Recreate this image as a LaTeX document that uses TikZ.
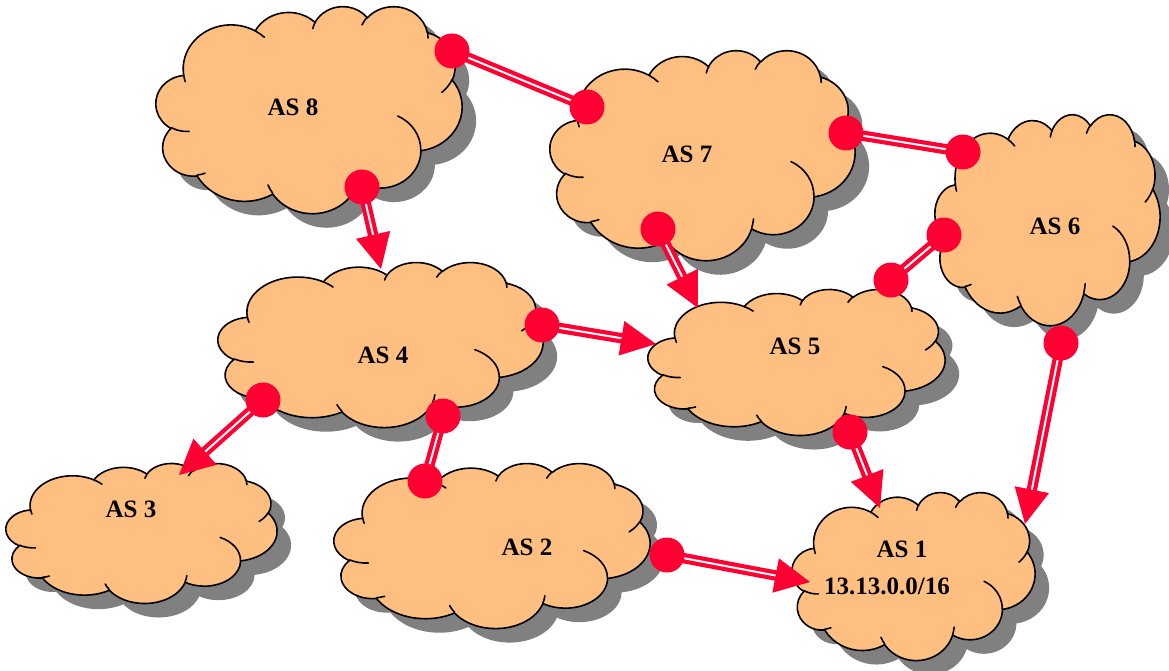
\documentclass[tikz,border=0pt]{standalone}
\usepackage{fontspec}
\setmainfont{Liberation Serif}
\usetikzlibrary{calc}
\definecolor{cloudfill}{RGB}{255,191,128}
\definecolor{shadowc}{RGB}{128,128,128}
\definecolor{linkred}{RGB}{255,0,51}

% Office-style arc: radii, visual start angle, sweep (y pointing down)
\newcommand\oa[4]{arc[x radius=#1, y radius=#2, start angle={-atan2((#1)*sin(#3),(#2)*cos(#3))}, delta angle={-mod(atan2((#1)*sin((#3)+(#4)),(#2)*cos((#3)+(#4)))-atan2((#1)*sin(#3),(#2)*cos(#3))+720,360)}]}

\newcommand\cloudshape{(39.00,-143.70) \oa{67.53}{91.90}{-190.4875}{123.7805} \oa{53.33}{72.67}{-144.1024}{89.9452} \oa{43.65}{59.45}{-145.8079}{99.7230} \oa{48.57}{65.95}{-130.9861}{117.2417} \oa{53.33}{72.73}{-78.7089}{109.0269} \oa{67.75}{92.20}{-46.2673}{130.2690} \oa{57.85}{78.67}{0.6250}{114.0333} \oa{67.52}{92.15}{22.4516}{115.1726} \oa{77.20}{105.43}{66.2426}{75.7110} \oa{43.60}{59.18}{-274.9421}{146.7356} \oa{43.45}{59.45}{-246.8285}{152.5189} -- cycle}

\newcommand\cloudinner{(46.93,-261.77) \oa{43.45}{59.45}{86.7420}{26.4295} (69.28,-348.99) \oa{43.60}{59.18}{73.6105}{11.4475} (164.78,-390.90) \oa{67.52}{92.15}{137.6242}{14.0811} (288.27,-347.51) \oa{67.52}{92.15}{6.4533}{15.9984} (341.29,-229.54) \oa{57.85}{78.67}{-70.2924}{70.9174} (417.98,-153.54) \oa{53.33}{72.73}{30.3180}{27.7515} (383.24,-54.26) \oa{48.57}{65.95}{-13.7443}{14.8589} (290.78,-39.52) \oa{48.57}{65.95}{-149.1815}{18.1954} (221.41,-47.20) \oa{43.65}{59.45}{-163.4943}{17.6864} (140.00,-51.92) \oa{67.53}{91.90}{-66.7070}{12.3194} (41.27,-157.89) \oa{67.53}{91.90}{157.6544}{11.8582}}

\newcommand\ascloud[4]{%
  \begin{scope}[shift={(#1+14,-#2-14)},xscale=#3/432,yscale=#4/432]
    \fill[shadowc] \cloudshape;
  \end{scope}
  \begin{scope}[shift={(#1,-#2)},xscale=#3/432,yscale=#4/432]
    \fill[cloudfill] \cloudshape;
    \draw[cloudline] \cloudshape;
    \draw[cloudline] \cloudinner;
  \end{scope}}

\newcommand\arrowlink[2]{%
  \coordinate (#2b) at ($(#2)!35pt!(#1)$);
  \draw[link] (#1) -- ($(#2)!30pt!(#1)$);
  \fill[linkred] (#1) circle (17.5);
  \fill[linkred] (#2) -- ($(#2b)!17.5pt!90:(#2)$) -- ($(#2b)!17.5pt!-90:(#2)$) -- cycle;}

\newcommand\dotlink[2]{%
  \draw[link] (#1) -- (#2);
  \fill[linkred] (#1) circle (17.5);
  \fill[linkred] (#2) circle (17.5);}

\tikzset{
  cloudline/.style={draw=black, line width=1.6pt, line join=round, line cap=round},
  link/.style={draw=linkred, line width=4.2pt, double=white, double distance=2pt},
  lab/.style={font=\fontsize{25}{30}\selectfont\bfseries, inner sep=0pt, text=black}
}

\begin{document}
\begin{tikzpicture}[x=1pt,y=1pt]
\useasboundingbox (0,0) rectangle (1169,-671);

% clouds: x, y (top-left), width, height
\ascloud{156}{6}{306}{207}
\ascloud{550}{50}{305}{210}
\ascloud{935}{114}{225}{211}
\ascloud{218}{262}{325}{165}
\ascloud{648}{289}{297}{146}
\ascloud{6}{463}{271}{140}
\ascloud{334}{463}{316}{165}
\ascloud{792}{492}{243}{168}

% labels
\node[lab] (as8) at (293,-107) {AS 8};
\node[lab] (as7) at (687,-154) {AS 7};
\node[lab] (as6) at (1055,-226) {AS 6};
\node[lab] (as4) at (383,-355) {AS 4};
\node[lab] (as5) at (795,-346) {AS 5};
\node[lab] (as3) at (131,-509) {AS 3};
\node[lab] (as2) at (527,-547) {AS 2};
\node[lab] (as1) at (902,-549) {AS 1};
\node[lab] (pfx) at (887,-586) {13.13.0.0/16};

% connector end points
\coordinate (d87) at (452,-51);
\coordinate (d78) at (587,-107);
\coordinate (d76) at (846,-133);
\coordinate (d67) at (963,-152);
\coordinate (d84) at (362,-187);
\coordinate (t84) at (381,-269);
\coordinate (d75) at (658,-229);
\coordinate (t75) at (698,-308);
\coordinate (d65) at (944,-235);
\coordinate (d56) at (891,-280);
\coordinate (d45) at (542,-325);
\coordinate (t45) at (656,-344);
\coordinate (d43) at (263,-400);
\coordinate (t43) at (179,-475);
\coordinate (d42) at (443,-416);
\coordinate (d24) at (425,-481);
\coordinate (d51) at (850,-432);
\coordinate (t51) at (880,-508);
\coordinate (d61) at (1061,-343);
\coordinate (t61) at (1025,-524);
\coordinate (d21) at (667,-555);
\coordinate (t21) at (810,-582);

\dotlink{d87}{d78}
\dotlink{d76}{d67}
\dotlink{d65}{d56}
\dotlink{d42}{d24}
\arrowlink{d84}{t84}
\arrowlink{d75}{t75}
\arrowlink{d45}{t45}
\arrowlink{d43}{t43}
\arrowlink{d51}{t51}
\arrowlink{d61}{t61}
\arrowlink{d21}{t21}
\end{tikzpicture}
\end{document}
